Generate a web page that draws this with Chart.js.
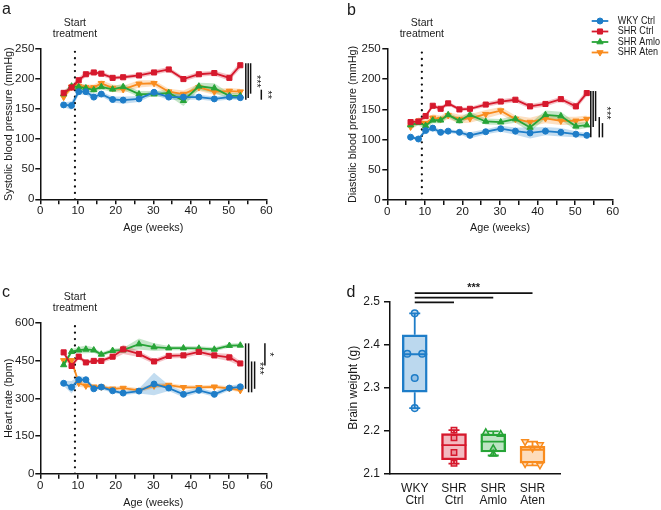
<!DOCTYPE html>
<html><head><meta charset="utf-8">
<script src="https://cdn.jsdelivr.net/npm/chart.js@4.4.1/dist/chart.umd.min.js"></script>
<style>
html,body{margin:0;padding:0;background:#fff;width:661px;height:510px;overflow:hidden}
canvas{position:absolute}
</style></head><body>
<canvas id="ca" width="330" height="250" style="left:0;top:0"></canvas>
<canvas id="cb" width="331" height="250" style="left:330px;top:0"></canvas>
<canvas id="cc" width="330" height="260" style="left:0;top:250px"></canvas>
<canvas id="cd" width="331" height="260" style="left:330px;top:250px"></canvas>
<script>
// ---------- DATA ----------
const weeks = [6.2, 8.3, 10.2, 12.1, 14.2, 16.2, 19.2, 22.0, 26.2, 30.2, 34.1, 38.0, 42.1, 46.2, 50.2, 53.1];
const treatmentStartWeek = 9.2;
const groupNames = ['WKY Ctrl', 'SHR Ctrl', 'SHR Amlo', 'SHR Aten'];

// a: systolic blood pressure (mmHg) and SEM
const wkySBP  = [157, 156, 179, 179, 170, 175, 166, 165, 167, 178, 170, 170, 170, 167, 170, 169];
const shrSBP  = [177, 186, 198, 208, 211, 209, 202, 203, 206, 211, 216, 200, 208, 210, 202, 223];
const amloSBP = [175, 188, 187, 185, 182, 187, 183, 187, 175, 175, 177, 164, 188, 185, 172, 172];
const atenSBP = [170, 187, 188, 186, 186, 193, 185, 183, 192, 193, 179, 175, 186, 179, 180, 179];
const wkySBPsem  = [4, 7, 5, 5, 5, 4, 5, 6, 5, 4, 5, 5, 4, 4, 4, 4];
const shrSBPsem  = [4, 4, 5, 4, 3, 4, 3, 3, 4, 4, 4, 4, 4, 4, 5, 6];
const amloSBPsem = [4, 4, 5, 5, 5, 4, 5, 5, 5, 5, 5, 9, 6, 8, 5, 5];
const atenSBPsem = [4, 5, 5, 5, 5, 5, 6, 6, 6, 5, 5, 6, 6, 5, 5, 5];

// b: diastolic blood pressure (mmHg) and SEM
const wkyDBP  = [104, 101, 115, 119, 112, 114, 112, 107, 113, 118, 114, 111, 114, 112, 109, 107];
const shrDBP  = [129, 130, 139, 156, 151, 160, 150, 151, 158, 163, 166, 155, 159, 167, 155, 177];
const amloDBP = [124, 128, 123, 132, 132, 141, 131, 141, 130, 129, 134, 120, 141, 139, 122, 124];
const atenDBP = [121, 131, 127, 136, 134, 140, 134, 135, 142, 148, 134, 129, 135, 131, 131, 134];
const wkyDBPsem  = [3, 3, 4, 4, 4, 3, 3, 5, 4, 5, 6, 9, 7, 7, 5, 4];
const shrDBPsem  = [4, 4, 4, 3, 4, 3, 3, 3, 4, 4, 4, 4, 4, 4, 5, 5];
const amloDBPsem = [4, 5, 5, 5, 5, 4, 5, 5, 5, 5, 6, 7, 7, 7, 6, 5];
const atenDBPsem = [5, 6, 6, 6, 6, 6, 7, 7, 7, 6, 6, 7, 8, 7, 7, 6];

// c: heart rate (bpm) and SEM
const wkyHR  = [360, 344, 374, 374, 338, 345, 330, 321, 329, 357, 341, 316, 332, 316, 341, 346];
const shrHR  = [483, 429, 466, 443, 449, 449, 466, 495, 477, 447, 469, 471, 485, 471, 463, 439];
const amloHR = [433, 486, 492, 495, 492, 475, 490, 492, 516, 504, 500, 500, 499, 495, 510, 511];
const atenHR = [451, 451, 361, 350, 346, 346, 338, 341, 332, 350, 353, 344, 344, 346, 340, 332];
const wkyHRsem  = [10, 25, 15, 10, 10, 10, 8, 8, 10, 45, 12, 12, 10, 10, 10, 10];
const shrHRsem  = [10, 10, 10, 8, 8, 8, 10, 18, 12, 10, 10, 10, 10, 10, 15, 10];
const amloHRsem = [10, 10, 12, 15, 10, 8, 8, 8, 22, 15, 8, 8, 8, 8, 8, 8];
const atenHRsem = [10, 10, 15, 8, 8, 8, 8, 8, 8, 10, 8, 8, 8, 8, 8, 8];

// d: brain weight (g)
const boxMin = [2.253, 2.124, 2.143, 2.120];
const boxQ1  = [2.290, 2.133, 2.151, 2.125];
const boxMed = [2.378, 2.167, 2.175, 2.156];
const boxQ3  = [2.423, 2.194, 2.193, 2.164];
const boxMax = [2.473, 2.202, 2.199, 2.175];
const wkyBrain  = [2.473, 2.379, 2.379, 2.323, 2.253];
const shrBrain  = [2.202, 2.184, 2.150, 2.125];
const amloBrain = [2.196, 2.192, 2.159, 2.146];
const atenBrain = [2.175, 2.168, 2.160, 2.124, 2.121];
const brainLabels = [['WKY', 'Ctrl'], ['SHR', 'Ctrl'], ['SHR', 'Amlo'], ['SHR', 'Aten']];

// ---------- STYLE ----------
const FONT = '"Liberation Sans", Arial, sans-serif';
const TXT = '#1a1a1a';
const colors = ['#1e7dc8', '#d6192d', '#27a437', '#f98c1e'];
const pStyles = ['circle', 'rect', 'triangle', 'triangle'];
const pRot = [0, 0, 0, 180];
const pRad = [3, 3.6, 3.6, 3.6];
function rgba(hex, a) {
  const n = parseInt(hex.slice(1), 16);
  return `rgba(${(n >> 16) & 255},${(n >> 8) & 255},${n & 255},${a})`;
}
Chart.defaults.font.family = FONT;
Chart.defaults.color = TXT;

const annotPlugin = {
  id: 'annot',
  afterDraw(chart) {
    const o = chart.options.plugins.annot;
    if (!o) return;
    const ctx = chart.ctx, xs = chart.scales.x, ys = chart.scales.y, ca = chart.chartArea;
    ctx.save();
    // panel letter
    ctx.fillStyle = TXT; ctx.font = `16px ${FONT}`; ctx.textAlign = 'left'; ctx.textBaseline = 'alphabetic';
    ctx.fillText(o.letter, o.letterX, o.letterY);
    if (o.treatment) {
      const tx = xs.getPixelForValue(treatmentStartWeek);
      ctx.font = `10.5px ${FONT}`; ctx.textAlign = 'center';
      ctx.fillText('Start', tx, ca.top - 23);
      ctx.fillText('treatment', tx, ca.top - 12);
    }
    if (o.sig) {
      const lastX = xs.getPixelForValue(weeks[weeks.length - 1]);
      ctx.strokeStyle = '#111'; ctx.lineWidth = 1.5;
      o.sig.forEach(g => {
        let lo = Infinity, hi = -Infinity;
        g.pairs.forEach((p, j) => {
          const px = lastX + g.offset + j * g.gap;
          const v1 = o.series[p[0]][weeks.length - 1], v2 = o.series[p[1]][weeks.length - 1];
          const y1 = ys.getPixelForValue(Math.max(v1, v2)) - 2, y2 = ys.getPixelForValue(Math.min(v1, v2)) + 2;
          lo = Math.min(lo, y1); hi = Math.max(hi, y2);
          ctx.beginPath(); ctx.moveTo(px, y1); ctx.lineTo(px, y2); ctx.stroke();
        });
        if (g.label) {
          ctx.save();
          ctx.translate(lastX + g.labelOffset, (g.labelMid != null ? ys.getPixelForValue(g.labelMid) : (lo + hi) / 2));
          ctx.rotate(Math.PI / 2);
          ctx.font = `11px ${FONT}`; ctx.textAlign = 'center'; ctx.textBaseline = 'middle'; ctx.fillStyle = TXT;
          ctx.fillText(g.label, 0, 0);
          ctx.restore();
        }
      });
    }
    if (o.legend) {
      const L = o.legend;
      groupNames.forEach((name, i) => {
        const y = L.y + i * L.dy;
        ctx.strokeStyle = colors[i]; ctx.lineWidth = 1.8;
        ctx.beginPath(); ctx.moveTo(L.x, y); ctx.lineTo(L.x + L.len, y); ctx.stroke();
        ctx.fillStyle = colors[i]; ctx.lineWidth = 1;
        Chart.helpers.drawPoint(ctx, {pointStyle: pStyles[i], rotation: pRot[i], radius: pRad[i], borderWidth: 1}, L.x + L.len / 2, y);
        ctx.fillStyle = TXT; ctx.font = `10.5px ${FONT}`; ctx.textAlign = 'left'; ctx.textBaseline = 'middle';
        const w = ctx.measureText(name).width;
        ctx.fillText(name, L.x + L.len + 9.5, y, Math.min(w, w * 0.86));
      });
    }
    ctx.restore();
  }
};

function axisCommon() {
  return {
    grid: {drawOnChartArea: false, tickLength: 5, color: '#111', lineWidth: 1.5},
    border: {color: '#111', width: 1.5},
  };
}

function buildLinePanel(o) {
  const datasets = [];
  o.values.forEach((vals, i) => {
    datasets.push({
      type: 'line', label: groupNames[i],
      data: weeks.map((w, k) => ({x: w, y: vals[k]})),
      borderColor: colors[i], backgroundColor: colors[i], borderWidth: 1.8,
      pointStyle: pStyles[i], pointRotation: pRot[i], pointRadius: pRad[i],
      pointBorderWidth: 1, pointBackgroundColor: colors[i], pointBorderColor: colors[i],
      tension: 0, fill: false, order: i
    });
  });
  o.values.forEach((vals, i) => {
    const err = o.errors[i];
    datasets.push({
      data: weeks.map((w, k) => ({x: w, y: vals[k] + err[k]})),
      borderWidth: 0, pointRadius: 0, fill: '+1', backgroundColor: rgba(colors[i], 0.27), tension: 0, order: 10 + i
    });
    datasets.push({
      data: weeks.map((w, k) => ({x: w, y: vals[k] - err[k]})),
      borderWidth: 0, pointRadius: 0, fill: false, tension: 0, order: 10 + i
    });
  });
  datasets.push({
    data: [{x: treatmentStartWeek, y: 0}, {x: treatmentStartWeek, y: o.yMax}],
    borderColor: '#111', borderWidth: 2.3, borderDash: [0.01, 6.4], borderCapStyle: 'round',
    pointRadius: 0, fill: false, order: 5
  });
  const ac = axisCommon();
  return new Chart(document.getElementById(o.id), {
    type: 'line',
    data: {datasets},
    options: {
      responsive: false, animation: false, events: [],
      layout: {padding: {left: 0, top: o.area.top, right: o.w - o.area.right, bottom: 0}},
      plugins: {
        legend: {display: false}, tooltip: {enabled: false},
        annot: {letter: o.letter, letterX: o.letterX, letterY: o.letterY, treatment: true,
                sig: o.sig, series: o.seriesMap, legend: o.legend}
      },
      scales: {
        x: {
          type: 'linear', min: 0, max: 60,
          afterFit: s => { s.height = o.h - o.area.bottom; },
          ticks: {stepSize: 5, autoSkip: false, maxRotation: 0, padding: 0, color: TXT,
                  font: {size: 11.5}, callback: v => (v % 10 === 0 ? String(v) : '')},
          grid: ac.grid, border: ac.border,
          title: {display: true, text: 'Age (weeks)', color: TXT, font: {size: 10.8},
                  padding: {top: 0, bottom: o.xTitlePad}}
        },
        y: {
          min: 0, max: o.yMax,
          afterFit: s => { s.width = o.area.left; },
          ticks: {stepSize: o.yStep, padding: o.yTickPad, color: TXT, font: {size: 11.5}},
          grid: ac.grid, border: ac.border,
          title: {display: true, text: o.yTitle, color: TXT, font: {size: 10.8},
                  padding: {top: o.yTitlePad, bottom: 0}}
        }
      }
    },
    plugins: [annotPlugin]
  });
}

// Panel a
buildLinePanel({
  id: 'ca', w: 330, h: 250, area: {left: 40.3, right: 266.3, top: 49, bottom: 199.3},
  values: [wkySBP, shrSBP, amloSBP, atenSBP],
  errors: [wkySBPsem, shrSBPsem, amloSBPsem, atenSBPsem],
  seriesMap: {wky: wkySBP, shr: shrSBP, amlo: amloSBP, aten: atenSBP},
  yMax: 250, yStep: 50, yTitle: 'Systolic blood pressure (mmHg)',
  xTitlePad: 15.2, yTitlePad: 2.5, yTickPad: 1,
  letter: 'a', letterX: 2, letterY: 14,
  sig: [
    {pairs: [['shr', 'wky'], ['shr', 'amlo'], ['shr', 'aten']], offset: 5.5, gap: 2.4, label: '***', labelOffset: 15.5},
    {pairs: [['aten', 'wky']], offset: 21, gap: 2.4, label: '**', labelOffset: 26.5}
  ]
});

// Panel b
buildLinePanel({
  id: 'cb', w: 331, h: 250, area: {left: 57.3, right: 282.7, top: 49, bottom: 200},
  values: [wkyDBP, shrDBP, amloDBP, atenDBP],
  errors: [wkyDBPsem, shrDBPsem, amloDBPsem, atenDBPsem],
  seriesMap: {wky: wkyDBP, shr: shrDBP, amlo: amloDBP, aten: atenDBP},
  yMax: 250, yStep: 50, yTitle: 'Diastolic blood pressure (mmHg)',
  xTitlePad: 15.2, yTitlePad: 16.2, yTickPad: 1.6,
  letter: 'b', letterX: 17, letterY: 15,
  sig: [
    {pairs: [['shr', 'wky'], ['shr', 'amlo'], ['shr', 'aten']], offset: 4, gap: 2.4},
    {pairs: [['aten', 'wky'], ['amlo', 'wky']], offset: 12.5, gap: 3.2, label: '***', labelOffset: 19.5, labelMid: 144}
  ],
  legend: {x: 261.7, y: 21, dy: 10.5, len: 16.6}
});

// Panel c
buildLinePanel({
  id: 'cc', w: 330, h: 260, area: {left: 40.3, right: 266.3, top: 73, bottom: 223.7},
  values: [wkyHR, shrHR, amloHR, atenHR],
  errors: [wkyHRsem, shrHRsem, amloHRsem, atenHRsem],
  seriesMap: {wky: wkyHR, shr: shrHR, amlo: amloHR, aten: atenHR},
  yMax: 600, yStep: 150, yTitle: 'Heart rate (bpm)',
  xTitlePad: 0.3, yTitlePad: 2.5, yTickPad: 1,
  letter: 'c', letterX: 2, letterY: 47.3,
  sig: [
    {pairs: [['amlo', 'wky'], ['amlo', 'aten'], ['shr', 'aten'], ['shr', 'wky']], offset: 5.3, gap: 3, label: '***', labelOffset: 18.6, labelMid: 419},
    {pairs: [['amlo', 'shr']], offset: 24.6, gap: 3, label: '*', labelOffset: 28.6}
  ]
});

// Panel d
function jitter(vals, spread) {
  const idx = vals.map((v, i) => i).sort((a, b) => vals[b] - vals[a]);
  const off = new Array(vals.length).fill(0);
  let cluster = [idx[0]];
  const pattern = [-1, 1, 0, -2, 2];
  const flush = () => {
    if (cluster.length >= 2) cluster.forEach((k, j) => { off[k] = pattern[j] * spread; });
  };
  for (let j = 1; j < idx.length; j++) {
    if (vals[idx[j - 1]] - vals[idx[j]] < 0.012) cluster.push(idx[j]);
    else { flush(); cluster = [idx[j]]; }
  }
  flush();
  return off;
}
const brainPoints = [wkyBrain, shrBrain, amloBrain, atenBrain];
const boxPlugin = {
  id: 'boxParts',
  afterDatasetDraw(chart, args) {
    if (args.index !== 0) return;
    const ctx = chart.ctx, xs = chart.scales.x, ys = chart.scales.y;
    ctx.save();
    ctx.lineWidth = 1.8;
    groupNames.forEach((g, i) => {
      const px = xs.getPixelForValue(i + 1);
      ctx.strokeStyle = colors[i];
      const yMin = ys.getPixelForValue(boxMin[i]), yQ1 = ys.getPixelForValue(boxQ1[i]);
      const yQ3 = ys.getPixelForValue(boxQ3[i]), yMax = ys.getPixelForValue(boxMax[i]);
      const yMed = ys.getPixelForValue(boxMed[i]);
      ctx.beginPath();
      ctx.moveTo(px, yQ1); ctx.lineTo(px, yMin);
      ctx.moveTo(px, yQ3); ctx.lineTo(px, yMax);
      ctx.moveTo(px - 5.5, yMin); ctx.lineTo(px + 5.5, yMin);
      ctx.moveTo(px - 5.5, yMax); ctx.lineTo(px + 5.5, yMax);
      ctx.moveTo(px - 12.5, yMed); ctx.lineTo(px + 12.5, yMed);
      ctx.stroke();
    });
    ctx.restore();
  },
  afterDraw(chart) {
    const ctx = chart.ctx, xs = chart.scales.x, ca = chart.chartArea;
    ctx.save();
    ctx.strokeStyle = '#111'; ctx.lineWidth = 1.8;
    [1, 2, 3].forEach(k => {
      const y = ca.top + 0.6 - (k - 1) * 4.6;
      ctx.beginPath();
      ctx.moveTo(xs.getPixelForValue(1), y); ctx.lineTo(xs.getPixelForValue(k + 1), y);
      ctx.stroke();
    });
    ctx.fillStyle = TXT; ctx.font = `bold 11px ${FONT}`; ctx.textAlign = 'center'; ctx.textBaseline = 'middle';
    ctx.fillText('***', xs.getPixelForValue(2.5), ca.top - 13.5);
    ctx.font = `16px ${FONT}`; ctx.textAlign = 'left'; ctx.textBaseline = 'alphabetic';
    ctx.fillText('d', 16.5, 47.3);
    ctx.restore();
  }
};
const dDatasets = [{
  type: 'bar',
  data: groupNames.map((g, i) => ({x: i + 1, y: [boxQ1[i], boxQ3[i]]})),
  backgroundColor: colors.map(c => rgba(c, 0.3)), borderColor: colors,
  borderWidth: 1.8, borderSkipped: false, barThickness: 25, order: 10
}];
brainPoints.forEach((vals, i) => {
  const off = jitter(vals, 0.19);
  dDatasets.push({
    type: 'line', showLine: false,
    data: vals.map((v, k) => ({x: i + 1 + off[k], y: v})),
    pointStyle: pStyles[i], pointRotation: pRot[i], pointRadius: i === 0 ? 3.3 : 3.8,
    pointBorderWidth: 1.5, pointBorderColor: colors[i], pointBackgroundColor: rgba(colors[i], 0.25),
    order: i
  });
});
new Chart(document.getElementById('cd'), {
  type: 'bar',
  data: {datasets: dDatasets},
  options: {
    responsive: false, animation: false, events: [],
    layout: {padding: {left: 0, top: 51.7, right: 101, bottom: 0}},
    plugins: {legend: {display: false}, tooltip: {enabled: false}},
    scales: {
      x: {
        type: 'linear', min: 0.37, max: 4.7, offset: false,
        afterFit: s => { s.height = 36; },
        afterBuildTicks: s => { s.ticks = brainLabels.map((l, i) => ({value: i + 1})); },
        ticks: {autoSkip: false, maxRotation: 0, padding: 8, color: TXT, font: {size: 12, lineHeight: 1.05},
                callback: v => brainLabels[Math.round(v) - 1]},
        grid: {display: false, drawTicks: false, offset: false},
        border: {color: '#111', width: 1.5}
      },
      y: {
        min: 2.1, max: 2.5, beginAtZero: false,
        afterFit: s => { s.width = 60; },
        ticks: {stepSize: 0.1, padding: 4, color: TXT, font: {size: 12}, callback: v => v.toFixed(1)},
        grid: {drawOnChartArea: false, tickLength: 6, color: '#111', lineWidth: 1.5},
        border: {color: '#111', width: 1.5},
        title: {display: true, text: 'Brain weight (g)', color: TXT, font: {size: 12}, padding: {top: 16, bottom: 0}}
      }
    }
  },
  plugins: [boxPlugin]
});
</script>
</body></html>
